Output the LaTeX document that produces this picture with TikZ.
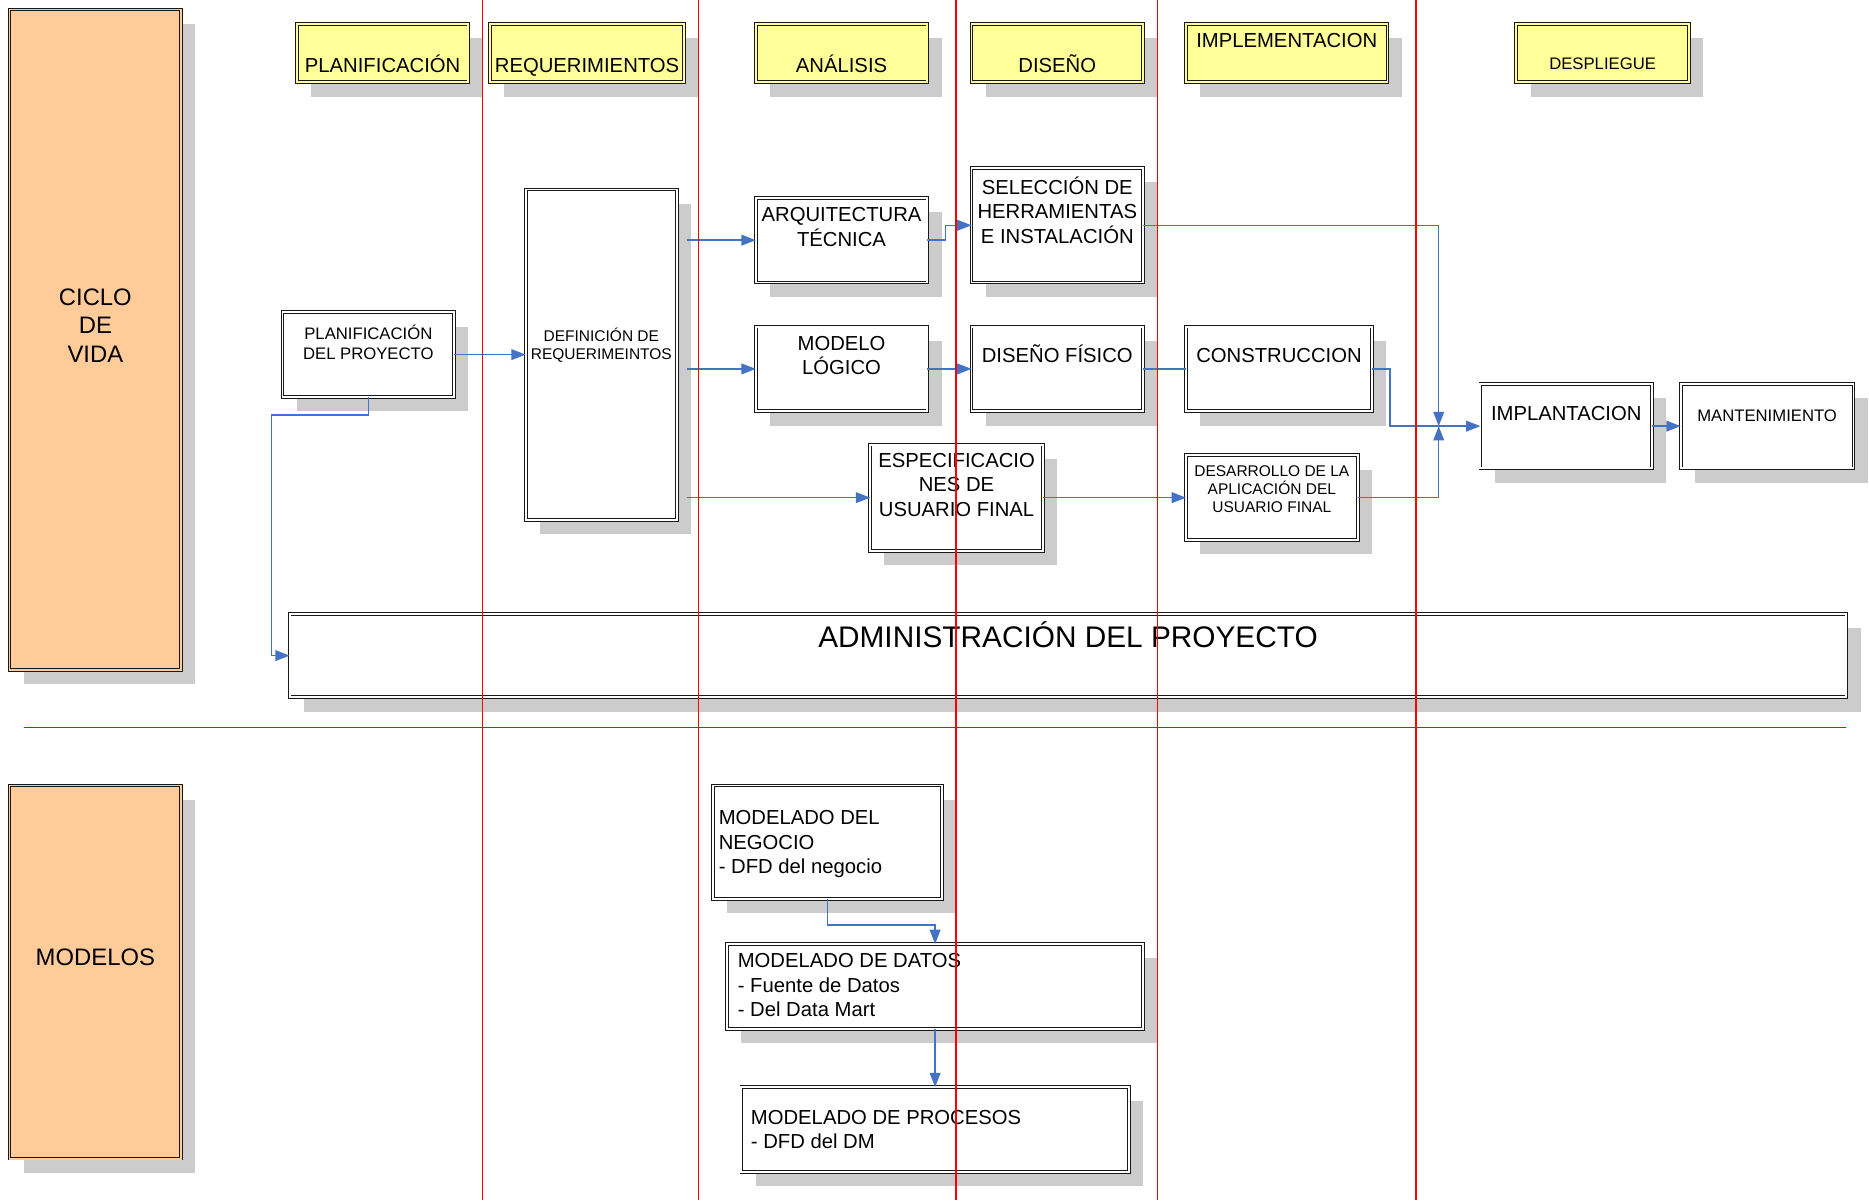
\documentclass[tikz,border=0pt]{standalone}
\usepackage{fontspec}
\setmainfont{Liberation Sans}
\usetikzlibrary{arrows.meta,shadows,calc}

\definecolor{sidefill}{RGB}{255,204,153}
\definecolor{hdrfill}{RGB}{255,255,153}
\definecolor{shadowgray}{RGB}{204,204,204}
\definecolor{connblue}{RGB}{68,114,196}
\definecolor{lanered}{RGB}{255,0,0}
\definecolor{boxline}{RGB}{25,25,25}

% invisible strut that fixes the height of a first text line
\newcommand{\mylead}{\rule{0pt}{1.1em}}

\tikzset{
  shad/.style={general shadow={fill=shadowgray, shadow xshift=12pt, shadow yshift=-12pt}},
  box/.style={shad, draw=boxline, line width=0.75pt, double=white, double distance=1.6pt,
              fill=white, inner sep=0pt, outer sep=0pt},
  headbox/.style={box, fill=hdrfill, double=hdrfill},
  sidebox/.style={box, fill=sidefill, double=sidefill},
  conn/.style={draw=connblue, line width=1.2pt, -{Triangle[length=12pt,width=9pt]}},
  link/.style={draw=connblue, line width=1.2pt},
  lane/.style={draw=lanered, line width=1pt},
  txt/.style={inner sep=0pt, outer sep=0pt, align=center},
  ftxx/.style={txt, font=\fontsize{25}{30}\selectfont},
  fbig/.style={txt, font=\fontsize{20}{24}\selectfont},
  fmain/.style={txt, font=\fontsize{17}{20.5}\selectfont},
  fmid/.style={txt, font=\fontsize{14}{17}\selectfont},
  fsmall/.style={txt, font=\fontsize{13}{15}\selectfont},
}

\begin{document}
\begin{tikzpicture}[x=1pt,y=-1pt]
\useasboundingbox (0,0) rectangle (1568,1007);

% ---- side bands
\node[sidebox, minimum width=144pt, minimum height=554pt] (ciclo) at (80,285) {};
\node[sidebox, minimum width=144pt, minimum height=313pt] (modelos) at (80,815.5) {};
\node[fbig, anchor=north] (ciclo-t) at (80,234) {\mylead CICLO\\DE\\VIDA};
\node[fbig, anchor=base] (modelos-t) at (80,810) {MODELOS};

% ---- phase headers
\node[headbox, minimum width=144pt, minimum height=49pt] (h1) at (321,44.5) {};
\node[headbox, minimum width=163pt, minimum height=49pt] (h2) at (492.5,44.5) {};
\node[headbox, minimum width=144pt, minimum height=49pt] (h3) at (706,44.5) {};
\node[headbox, minimum width=144pt, minimum height=49pt] (h4) at (887,44.5) {};
\node[headbox, minimum width=169pt, minimum height=49pt] (h5) at (1079.5,44.5) {};
\node[headbox, minimum width=145pt, minimum height=49pt] (h6) at (1344.5,44.5) {};
\node[fmain, anchor=base] (h1-t) at (321,60.5) {PLANIFICACIÓN};
\node[fmain, anchor=base] (h2-t) at (492.5,60.5) {REQUERIMIENTOS};
\node[fmain, anchor=base] (h3-t) at (706,60.5) {ANÁLISIS};
\node[fmain, anchor=base] (h4-t) at (887,60.5) {DISEÑO};
\node[fmain, anchor=base] (h5-t) at (1079.5,39.5) {IMPLEMENTACION};
\node[fmid, anchor=base] (h6-t) at (1344.5,58) {DESPLIEGUE};

% ---- life-cycle activities
\node[box, minimum width=144pt, minimum height=71pt] (plan) at (309,297.5) {};
\node[box, minimum width=127pt, minimum height=277pt] (defreq) at (504.5,297.5) {};
\node[box, minimum width=144pt, minimum height=71pt] (arq) at (706,201.5) {};
\node[box, minimum width=144pt, minimum height=96pt] (sel) at (887,189) {};
\node[box, minimum width=144pt, minimum height=71pt] (ml) at (706,309.5) {};
\node[box, minimum width=144pt, minimum height=71pt] (df) at (887,309.5) {};
\node[box, minimum width=156pt, minimum height=71pt] (cons) at (1073,309.5) {};
\node[box, minimum width=145pt, minimum height=89pt] (esp) at (802.5,417.5) {};
\node[box, minimum width=144pt, minimum height=71pt] (des) at (1067,417.5) {};
\node[box, minimum width=144pt, minimum height=71pt] (impl) at (1314,357.5) {};
\node[box, minimum width=145pt, minimum height=71pt] (mant) at (1482.5,357.5) {};
\node[box, minimum width=1306pt, minimum height=70pt] (admin) at (896,550) {};

% ---- models
\node[box, minimum width=192pt, minimum height=95pt] (neg) at (694,706.5) {};
\node[box, minimum width=349pt, minimum height=71pt] (datos) at (784.5,827.5) {};
\node[box, minimum width=325pt, minimum height=71pt] (proc) at (784.5,947.5) {};

% ---- labels
\node[fmid, anchor=north] (plan-t) at (309,269.6) {\mylead PLANIFICACIÓN\\DEL PROYECTO};
\node[fsmall, anchor=north] (defreq-t) at (504.5,272.3) {\mylead DEFINICIÓN DE\\REQUERIMEINTOS};
\node[fmain, anchor=north] (arq-t) at (706,167.3) {\mylead ARQUITECTURA\\TÉCNICA};
\node[fmain, anchor=north] (sel-t) at (887,144.3) {\mylead SELECCIÓN DE\\HERRAMIENTAS\\E INSTALACIÓN};
\node[fmain, anchor=north] (ml-t) at (706,275.3) {\mylead MODELO\\LÓGICO};
\node[fmain, anchor=base] (df-t) at (887,304) {DISEÑO FÍSICO};
\node[fmain, anchor=base] (cons-t) at (1073,304) {CONSTRUCCION};
\node[fmain, anchor=north] (esp-t) at (802.5,373.3) {\mylead ESPECIFICACIO\\NES DE\\USUARIO FINAL};
\node[fsmall, anchor=north] (des-t) at (1067,385.3) {\mylead DESARROLLO DE LA\\APLICACIÓN DEL\\USUARIO FINAL};
\node[fmain, anchor=base] (impl-t) at (1314,353) {IMPLANTACION};
\node[fmid, anchor=base] (mant-t) at (1482.5,354) {MANTENIMIENTO};
\node[ftxx, anchor=base] (admin-t) at (896,543) {ADMINISTRACIÓN DEL PROYECTO};
\node[fmain, align=left, anchor=north west] (neg-t) at (603,673.3) {\mylead MODELADO DEL\\NEGOCIO\\- DFD del negocio};
\node[fmain, align=left, anchor=north west] (datos-t) at (619,793.3) {\mylead MODELADO DE DATOS\\- Fuente de Datos\\- Del Data Mart};
\node[fmain, align=left, anchor=north west] (proc-t) at (630,924.3) {\mylead MODELADO DE PROCESOS\\- DFD del DM};

% ---- connectors
\coordinate (merge) at ($(impl.west)+(-35,0)$);
\draw[conn] (plan.east) -- (plan.east -| defreq.west);
\draw[conn] (plan.south) -- ++(0,15) -| ($(admin.west)+(-15,0)$) -- (admin.west);
\draw[conn] ($(defreq.east |- arq.west)+(8,0)$) -- (arq.west);
\draw[conn] ($(defreq.east |- ml.west)+(8,0)$) -- (ml.west);
\draw[conn] ($(defreq.east |- esp.west)+(8,0)$) -- (esp.west);
\draw[conn] (arq.east) -- ++(15,0) |- (sel.west);
\draw[conn] (ml.east) -- (df.west);
\draw[link] (df.east) -- (cons.west);
\draw[conn] (sel.east) -| (merge);
\draw[conn] (cons.east) -- ++(15,0) |- (impl.west);
\draw[conn] (esp.east) -- (des.west);
\draw[conn] (des.east) -| (merge);
\draw[conn] (impl.east) -- (mant.west);
\draw[conn] (neg.south) -- ++(0,22) -| (datos.north);
\draw[conn] (datos.south) -- (proc.north);

% ---- swimlane separators
\foreach \lx in {405,586,802,971,1188}
  \draw[lane] (\lx,0) -- (\lx,1007);
\draw[lane] (20,610) -- (1549,610);
\end{tikzpicture}
\end{document}
